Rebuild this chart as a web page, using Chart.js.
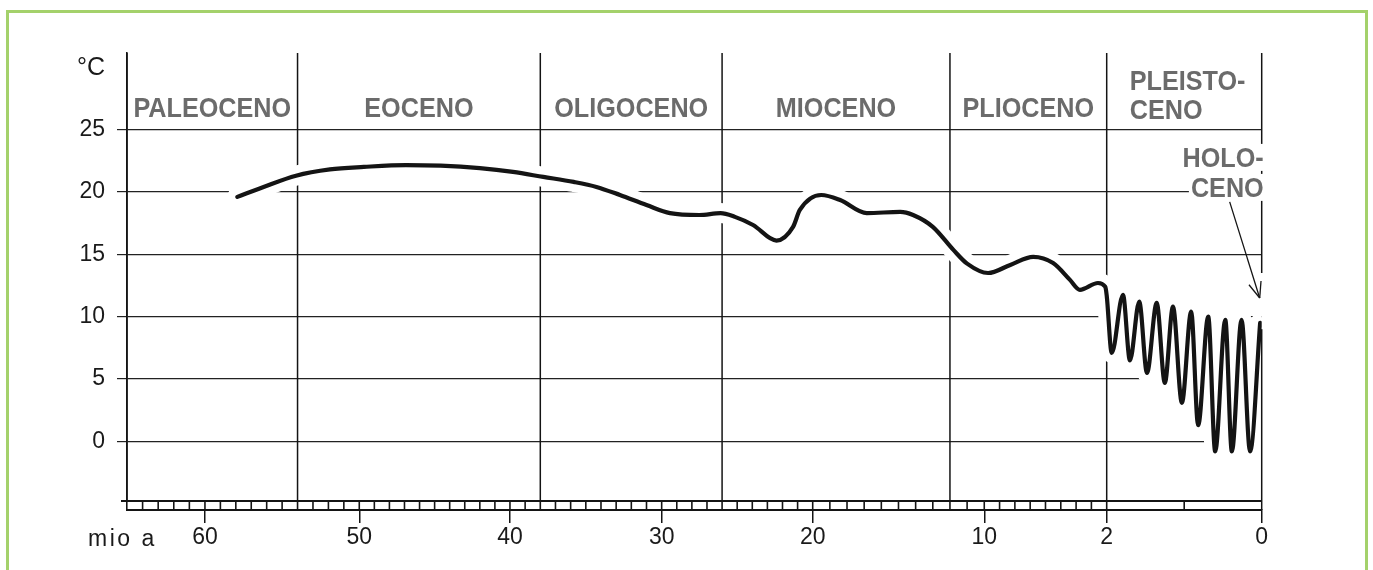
<!DOCTYPE html>
<html>
<head>
<meta charset="utf-8">
<script src="https://cdn.jsdelivr.net/npm/chart.js@4.4.1/dist/chart.umd.min.js"></script>
<style>
  html, body { margin: 0; padding: 0; background: #fff; overflow: hidden; }
  #wrap { position: relative; width: 1373px; height: 570px; }
  #frame { position: absolute; left: 6px; top: 10px; width: 1362px; height: 620px;
           border: 3px solid #a4d16b; box-sizing: border-box; pointer-events: none; }
</style>
</head>
<body>
<div id="wrap">
  <canvas id="myChart" width="1373" height="570"></canvas>
  <div id="frame"></div>
</div>
<script>
// temperature curve: age in mio a, temperature in °C
const ages = [57.9, 56.2, 54.1, 51.9, 49.7, 46.9, 44.6, 42.0, 39.8, 37.8, 35.8, 34.3, 32.75, 31.0,
  29.45, 27.5, 26.1, 25.15, 23.95, 22.4, 21.3, 20.85, 19.5, 18.4, 16.85, 14.9, 14.15, 13.0, 11.8,
  11.0, 9.75, 8.3, 6.8, 5.5, 4.4, 3.75, 2.57, 2.1, 2.0, 1.935, 1.79, 1.70, 1.58, 1.48, 1.355,
  1.25, 1.145, 1.03, 0.91, 0.82, 0.69, 0.60, 0.47, 0.385, 0.26, 0.15, 0.02];
const temps = [19.6, 20.4, 21.3, 21.8, 22.0, 22.15, 22.1, 21.9, 21.6, 21.2, 20.8, 20.4, 19.75, 18.95,
  18.3, 18.15, 18.3, 18.0, 17.35, 16.1, 17.2, 18.55, 19.75, 19.35, 18.3, 18.4, 18.15, 17.2, 15.35,
  14.25, 13.5, 14.15, 14.8, 14.3, 12.95, 12.15, 12.7, 12.4, 11.7, 7.1, 11.75, 6.5, 11.2, 5.5, 11.1,
  4.7, 10.8, 3.1, 10.4, 1.3, 10.0, -0.8, 9.75, -0.8, 9.75, -0.8, 9.5];

const epoch_names = ["PALEOCENO", "EOCENO", "OLIGOCENO", "MIOCENO", "PLIOCENO"];
const epoch_bounds = [65, 54, 38, 26, 12, 2, 0];
const pleistocene_label = ["PLEISTO-", "CENO"];
const holocene_label = ["HOLO-", "CENO"];
const age_ticks = [60, 50, 40, 30, 20, 10, 2, 0];
const temp_ticks = [0, 5, 10, 15, 20, 25];

// the drawn time axis is not uniform (last 2 mio a stretched), so map age -> axis fraction
const axis_ages = [65, 60, 50, 40, 30, 20, 10, 2, 0];
const axis_frac = [0, 0.0687, 0.2047, 0.3375, 0.4712, 0.6043, 0.7555, 0.8634, 1];

const ageToFrac = (a) => {
  let i = 0;
  while (i < axis_ages.length - 2 && a < axis_ages[i + 1]) i++;
  const t = (axis_ages[i] - a) / (axis_ages[i] - axis_ages[i + 1]);
  return axis_frac[i] + t * (axis_frac[i + 1] - axis_frac[i]);
};
const fracToAge = (f) => {
  let i = 0;
  while (i < axis_frac.length - 2 && f > axis_frac[i + 1]) i++;
  const t = (f - axis_frac[i]) / (axis_frac[i + 1] - axis_frac[i]);
  return axis_ages[i] + t * (axis_ages[i + 1] - axis_ages[i]);
};

class AgeScale extends Chart.LinearScale {
  getPixelForValue(value) {
    if (value === null || isNaN(value)) return NaN;
    return this.getPixelForDecimal(ageToFrac(value));
  }
  getValueForPixel(pixel) {
    return fracToAge(this.getDecimalForPixel(pixel));
  }
}
AgeScale.id = "age";
AgeScale.defaults = Chart.LinearScale.defaults;
Chart.register(AgeScale);

const FONT = "'Liberation Sans', Arial, sans-serif";
const label_color = "#6b6b6b";
const ink = "#141414";

const line = (ctx, x1, y1, x2, y2) => {
  ctx.beginPath();
  ctx.moveTo(x1, y1);
  ctx.lineTo(x2, y2);
  ctx.stroke();
};

const epochText = (ctx, text, x, y, align) => {
  ctx.save();
  ctx.translate(x, y);
  ctx.scale(0.9, 1);
  ctx.textAlign = align;
  ctx.fillText(text, 0, 0);
  ctx.restore();
};

const sketch = {
  id: "sketch",
  beforeDatasetsDraw(chart) {
    const { ctx, chartArea: a, scales: { x, y } } = chart;
    const band_top = y.getPixelForValue(-4.77);
    ctx.save();
    ctx.strokeStyle = ink;
    ctx.lineWidth = 1.5;
    // epoch boundaries (the 0 line is drawn later, over the curve)
    epoch_bounds.forEach((b) => {
      if (b === 0) return;
      const px = x.getPixelForValue(b);
      line(ctx, px, a.top, px, band_top);
    });
    // chequered time band
    ctx.lineWidth = 2;
    line(ctx, a.left - 6, band_top, a.right, band_top);
    ctx.lineWidth = 1.6;
    for (let age = 64; age >= 1; age--) {
      if (age < 2 && age !== 1) continue;
      const px = x.getPixelForValue(age);
      line(ctx, px, band_top, px, a.bottom);
    }
    ctx.restore();
  },
  afterDatasetsDraw(chart) {
    const { ctx, chartArea: a, scales: { x, y } } = chart;
    const x0 = x.getPixelForValue(0);
    ctx.save();
    ctx.strokeStyle = ink;
    ctx.lineWidth = 1.5;
    line(ctx, x0, a.top, x0, y.getPixelForValue(13.5));
    line(ctx, x0, y.getPixelForValue(9), x0, a.bottom);

    // epoch names
    ctx.fillStyle = label_color;
    ctx.font = "bold 28px " + FONT;
    ctx.textBaseline = "alphabetic";
    const y25 = y.getPixelForValue(25);
    epoch_names.forEach((name, i) => {
      const cx = (x.getPixelForValue(epoch_bounds[i]) + x.getPixelForValue(epoch_bounds[i + 1])) / 2;
      epochText(ctx, name, cx, y25 - 12.5, "center");
    });
    const x2 = x.getPixelForValue(2);
    epochText(ctx, pleistocene_label[0], x2 + 23, y25 - 39.5, "left");
    epochText(ctx, pleistocene_label[1], x2 + 23, y25 - 10.5, "left");

    const y20 = y.getPixelForValue(20);
    const holo_y = [y20 - 25, y20 + 5];
    holocene_label.forEach((t, i) => {
      const w = ctx.measureText(t).width * 0.9;
      ctx.fillStyle = "#fff";
      ctx.fillRect(x0 + 2 - w - 2, holo_y[i] - 23, w + 4, 27);
      ctx.fillStyle = label_color;
      epochText(ctx, t, x0 + 2, holo_y[i], "right");
    });

    // arrow to the holocene
    const tx = x0 - 2, ty = y.getPixelForValue(11.5);
    const sx = x0 - 32, sy = y20 + 10;
    ctx.lineWidth = 1.3;
    line(ctx, sx, sy, tx, ty);
    const ang = Math.atan2(sy - ty, sx - tx);
    [0.38, -0.38].forEach((d) => {
      line(ctx, tx, ty, tx + 17 * Math.cos(ang + d), ty + 17 * Math.sin(ang + d));
    });

    // unit labels
    ctx.fillStyle = "#1a1a1a";
    ctx.font = "25px " + FONT;
    ctx.textAlign = "left";
    ctx.fillText("°C", a.left - 50, a.top + 22);
    ctx.font = "23px " + FONT;
    ctx.letterSpacing = "2.5px";
    ctx.fillText("mio a", a.left - 39, a.bottom + 36);
    ctx.restore();
  },
};

const point_data = ages.map((a, i) => ({ x: a, y: temps[i] }));

const ctx = document.getElementById("myChart").getContext("2d");
const myChart = new Chart(ctx, {
  type: "line",
  data: {
    datasets: [
      {
        data: point_data,
        borderColor: ink,
        borderWidth: 4.2,
        pointRadius: 0,
        cubicInterpolationMode: "monotone",
        borderCapStyle: "round",
        borderJoinStyle: "round",
        order: 0,
      },
      {
        // white halo, breaks the grid lines where the curve crosses them
        data: point_data,
        borderColor: "#ffffff",
        borderWidth: 20,
        pointRadius: 0,
        cubicInterpolationMode: "monotone",
        borderCapStyle: "round",
        borderJoinStyle: "round",
        order: 1,
      },
    ],
  },
  options: {
    responsive: false,
    animation: false,
    layout: { padding: { top: 53, right: 111.3, left: 0, bottom: 0 } },
    plugins: { legend: { display: false }, tooltip: { enabled: false } },
    scales: {
      x: {
        type: "age",
        min: 0,
        max: 65,
        afterBuildTicks: (s) => { s.ticks = age_ticks.map((v) => ({ value: v })); },
        afterFit: (s) => { s.height = 60; },
        ticks: { autoSkip: false, maxRotation: 0, padding: 1, color: "#1a1a1a",
                 font: { family: FONT, size: 23 }, callback: (v) => String(v) },
        grid: { drawOnChartArea: false, drawTicks: true, tickLength: 13, color: ink, lineWidth: 1.5 },
        border: { display: true, color: ink, width: 2 },
      },
      y: {
        min: -5.49,
        max: 31.13,
        afterBuildTicks: (s) => { s.ticks = temp_ticks.map((v) => ({ value: v })); },
        afterFit: (s) => { s.width = 127; },
        ticks: { padding: 12, color: "#1a1a1a", font: { family: FONT, size: 23 } },
        grid: { color: "#222", lineWidth: 1.2, tickLength: 10 },
        border: { display: true, color: ink, width: 1.6 },
      },
    },
  },
  plugins: [sketch],
});
</script>
</body>
</html>
